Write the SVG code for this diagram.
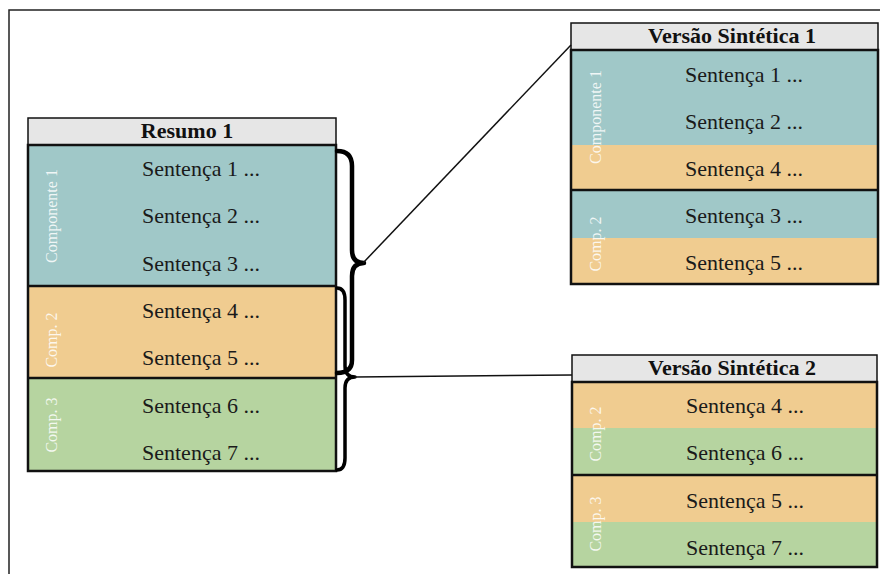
<svg xmlns="http://www.w3.org/2000/svg" width="880" height="574" viewBox="0 0 880 574">
  <style>
    .title { font-family: "Liberation Serif", "Times New Roman", serif; font-size: 22px; font-weight: bold; fill: #111; text-anchor: middle; }
    .sent { font-family: "Liberation Serif", "Times New Roman", serif; font-size: 22px; fill: #1a1a1a; }
    .vlab { font-family: "Liberation Serif", "Times New Roman", serif; font-size: 16px; fill: #ffffff; fill-opacity: 0.85; text-anchor: middle; }
    .bar { fill: #e6e6e6; stroke: #111; stroke-width: 1.5; }
    .teal { fill: #a0c8c8; }
    .orange { fill: #f0cc90; }
    .green { fill: #b6d4a0; }
    .border { fill: none; stroke: #111; stroke-width: 2.5; }
    .div { stroke: #111; stroke-width: 2.5; }
    .brace { fill: none; stroke: #000; stroke-linejoin: round; stroke-linecap: round; }
    .link { fill: none; stroke: #111; stroke-width: 1.5; }
  </style>

  <rect width="880" height="574" fill="#ffffff"/>
  <!-- outer frame -->
  <path d="M9,580 V10 H885" fill="none" stroke="#222" stroke-width="1.5"/>

  <!-- source summary -->
  <g id="resumo1">
    <rect class="bar" x="28" y="118" width="308" height="27"/>
    <text class="title" x="187" y="138">Resumo 1</text>
    <rect class="teal" x="28" y="145" width="308" height="141"/>
    <rect class="orange" x="28" y="286" width="308" height="92"/>
    <rect class="green" x="28" y="378" width="308" height="93"/>
    <line class="div" x1="28" y1="286" x2="336" y2="286"/>
    <line class="div" x1="28" y1="378" x2="336" y2="378"/>
    <rect class="border" x="28" y="145" width="308" height="326"/>
    <text class="vlab" transform="translate(57,216) rotate(-90)">Componente 1</text>
    <text class="vlab" transform="translate(57,340) rotate(-90)">Comp. 2</text>
    <text class="vlab" transform="translate(57,425) rotate(-90)">Comp. 3</text>
    <text class="sent" x="142" y="176">Sentença 1 ...</text>
    <text class="sent" x="142" y="223">Sentença 2 ...</text>
    <text class="sent" x="142" y="271">Sentença 3 ...</text>
    <text class="sent" x="142" y="318">Sentença 4 ...</text>
    <text class="sent" x="142" y="365">Sentença 5 ...</text>
    <text class="sent" x="142" y="413">Sentença 6 ...</text>
    <text class="sent" x="142" y="460">Sentença 7 ...</text>
  </g>

  <!-- synthetic version 1 -->
  <g id="versao1">
    <rect class="bar" x="571" y="23" width="307" height="27"/>
    <text class="title" x="732" y="43">Versão Sintética 1</text>
    <rect class="teal" x="571" y="50" width="307" height="95"/>
    <rect class="orange" x="571" y="145" width="307" height="45"/>
    <rect class="teal" x="571" y="190" width="307" height="48"/>
    <rect class="orange" x="571" y="238" width="307" height="46"/>
    <line class="div" x1="571" y1="190" x2="878" y2="190"/>
    <rect class="border" x="571" y="50" width="307" height="234"/>
    <text class="vlab" transform="translate(601,117) rotate(-90)">Componente 1</text>
    <text class="vlab" transform="translate(601,244) rotate(-90)">Comp. 2</text>
    <text class="sent" x="685" y="82">Sentença 1 ...</text>
    <text class="sent" x="685" y="129">Sentença 2 ...</text>
    <text class="sent" x="685" y="176">Sentença 4 ...</text>
    <text class="sent" x="685" y="223">Sentença 3 ...</text>
    <text class="sent" x="685" y="270">Sentença 5 ...</text>
  </g>

  <!-- synthetic version 2 -->
  <g id="versao2">
    <rect class="bar" x="572" y="355" width="305" height="27"/>
    <text class="title" x="732" y="375">Versão Sintética 2</text>
    <rect class="orange" x="572" y="382" width="305" height="46"/>
    <rect class="green" x="572" y="428" width="305" height="47"/>
    <rect class="orange" x="572" y="475" width="305" height="47"/>
    <rect class="green" x="572" y="522" width="305" height="45"/>
    <line class="div" x1="572" y1="475" x2="877" y2="475"/>
    <rect class="border" x="572" y="382" width="305" height="185"/>
    <text class="vlab" transform="translate(601,434) rotate(-90)">Comp. 2</text>
    <text class="vlab" transform="translate(601,524) rotate(-90)">Comp. 3</text>
    <text class="sent" x="686" y="413">Sentença 4 ...</text>
    <text class="sent" x="686" y="460">Sentença 6 ...</text>
    <text class="sent" x="686" y="508">Sentença 5 ...</text>
    <text class="sent" x="686" y="555">Sentença 7 ...</text>
  </g>

  <!-- braces and links -->
  <g id="connectors">
    <path class="brace" stroke-width="4.5" d="M337,151 Q352,151 352,166 L352,250 Q352,263 364,263 Q352,263 352,276 L352,360 Q352,373 337,373"/>
    <path class="brace" stroke-width="3.5" d="M337,288 Q345,288 345,300 L345,366 Q345,377 355,377 Q345,377 345,388 L345,458 Q345,470 337,470"/>
    <line class="link" x1="363" y1="263" x2="571" y2="45"/>
    <line class="link" x1="355" y1="377" x2="572" y2="375"/>
  </g>
</svg>
